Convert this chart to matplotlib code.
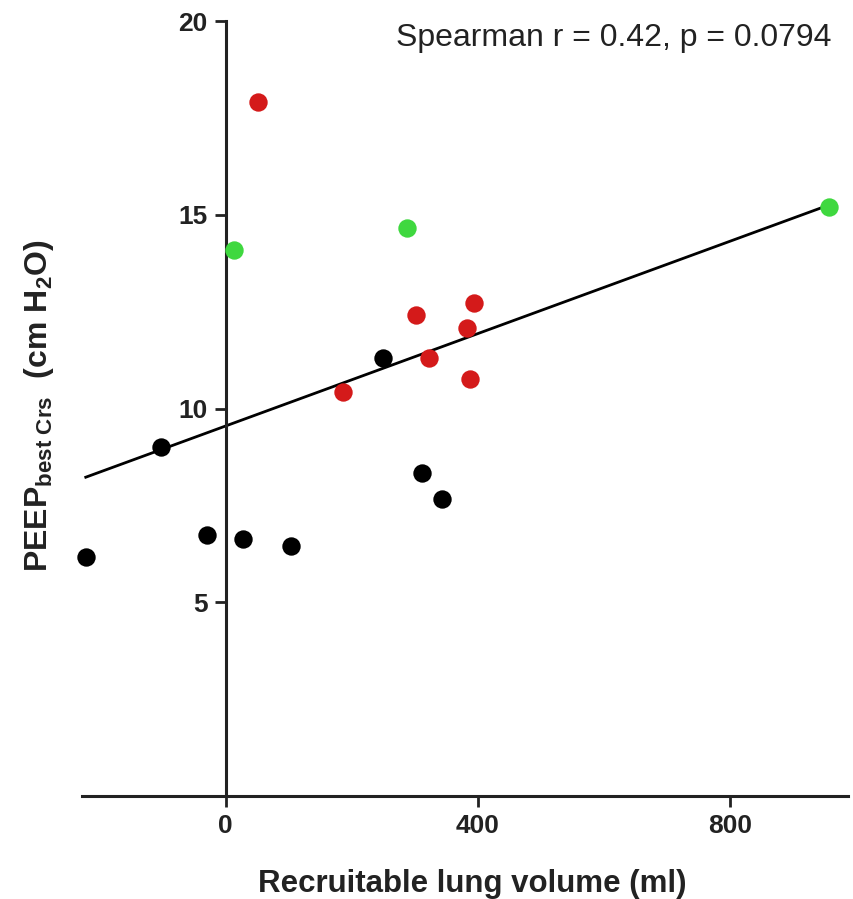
import matplotlib
matplotlib.use("Agg")
import matplotlib.pyplot as plt
import numpy as np

plt.rcParams['font.family'] = ['Liberation Sans', 'DejaVu Sans']
plt.rcParams['mathtext.fontset'] = 'custom'
plt.rcParams['mathtext.rm'] = 'Liberation Sans'
plt.rcParams['mathtext.bf'] = 'Liberation Sans:bold'
plt.rcParams['mathtext.it'] = 'Liberation Sans:italic'

# Data
red_x = [51, 186, 302, 322, 383, 387, 394]
red_y = [17.9, 10.43, 12.42, 11.3, 12.08, 10.76, 12.73]
green_x = [13, 288, 957]
green_y = [14.09, 14.66, 15.2]
black_x = [-222, -103, -30, 27, 103, 250, 311, 343]
black_y = [6.17, 9.0, 6.74, 6.63, 6.45, 11.3, 8.34, 7.67]

fit_slope = 0.00596
fit_intercept = 9.55
fit_x = [-222, 957]

x_ticks = [0, 400, 800]
y_ticks = [5, 10, 15, 20]
annotation = "Spearman r = 0.42, p = 0.0794"

fig = plt.figure(figsize=(8.54, 8.99), dpi=100)
ax = fig.add_axes([0.096, 0.1146, 0.897, 0.862])

kw = dict(s=175, zorder=3, linewidths=0, clip_on=False)
ax.scatter(black_x, black_y, color='#000000', **kw)
ax.scatter(red_x, red_y, color='#d41a1a', **kw)
ax.scatter(green_x, green_y, color='#3fd83f', **kw)

fx = np.array(fit_x, dtype=float)
ax.plot(fx, fit_intercept + fit_slope * fx, color='black', lw=2.0, zorder=2, clip_on=False)

ax.set_xlim(-228, 987)
ax.set_ylim(0, 20)
ax.spines['top'].set_visible(False)
ax.spines['right'].set_visible(False)
ax.spines['left'].set_position(('data', 0))
ax.spines['left'].set_bounds(0, 20)
ax.spines['bottom'].set_position(('data', 0))
for s in ['left', 'bottom']:
    ax.spines[s].set_linewidth(2.2)
    ax.spines[s].set_color('#222222')

ax.set_xticks(x_ticks)
ax.set_yticks(y_ticks)
ax.tick_params(axis='both', direction='out', length=8, width=2.0, labelsize=19, pad=5, color='#222222')
for lab in ax.get_xticklabels() + ax.get_yticklabels():
    lab.set_fontweight('bold')
    lab.set_color('#222222')

ax.set_xlabel('Recruitable lung volume (ml)', fontsize=22.5, fontweight='bold', color='#222222')
ax.xaxis.set_label_coords(0.509, -0.094)
fig.text(0.046, 0.549, r'$\mathbf{PEEP_{best\ Crs}\ \ (cm\ H_2O)}$', rotation=90,
         fontsize=23, ha='center', va='center', color='#222222')

ax.text(0.979, 0.968, annotation, transform=ax.transAxes, ha='right', va='baseline',
        fontsize=23, color='#222222')

fig.savefig('out.png', dpi=100)
